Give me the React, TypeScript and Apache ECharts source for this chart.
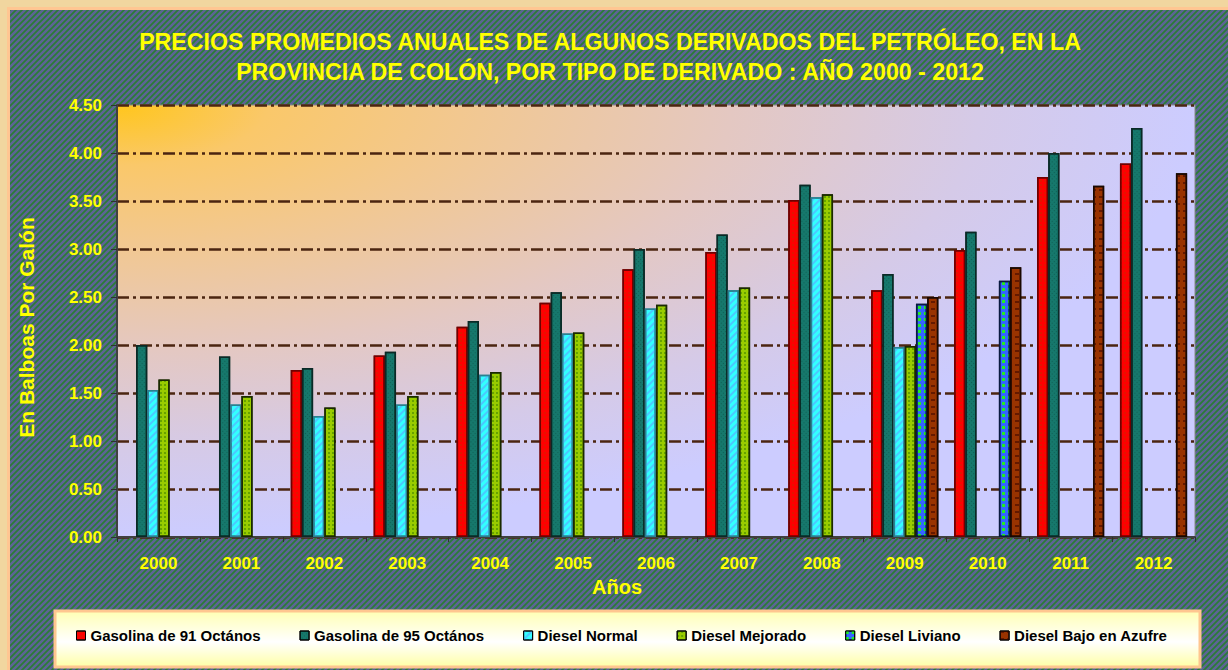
import React, { useEffect, useRef } from "react";
import * as echarts from "echarts";

const years = ["2000", "2001", "2002", "2003", "2004", "2005", "2006", "2007", "2008", "2009", "2010", "2011", "2012"];
const gasolina91 = [null, null, 1.74, 1.89, 2.19, 2.44, 2.79, 2.97, 3.51, 2.57, 2.99, 3.75, 3.89];
const gasolina95 = [2.0, 1.88, 1.76, 1.93, 2.25, 2.55, 3.0, 3.15, 3.67, 2.74, 3.18, 4.0, 4.26];
const dieselNormal = [1.53, 1.38, 1.26, 1.38, 1.69, 2.12, 2.38, 2.57, 3.54, 1.98, null, null, null];
const dieselMejorado = [1.64, 1.47, 1.35, 1.47, 1.72, 2.13, 2.42, 2.6, 3.57, 1.99, null, null, null];
const dieselLiviano = [null, null, null, null, null, null, null, null, null, 2.43, 2.67, null, null];
const dieselBajo = [null, null, null, null, null, null, null, null, null, 2.5, 2.81, 3.66, 3.79];

const seriesNames = [
  "Gasolina de 91 Octános",
  "Gasolina de 95 Octános",
  "Diesel Normal",
  "Diesel Mejorado",
  "Diesel Liviano",
  "Diesel Bajo en Azufre",
];

const titleText = "PRECIOS PROMEDIOS ANUALES DE ALGUNOS DERIVADOS DEL PETRÓLEO, EN LA\nPROVINCIA DE COLÓN, POR TIPO DE DERIVADO : AÑO 2000 - 2012";

const FONT = "'Liberation Sans', Arial, sans-serif";

const stripeTile =
  "url(\"data:image/svg+xml;utf8," +
  encodeURIComponent(
    "<svg xmlns='http://www.w3.org/2000/svg' width='6' height='6'><rect width='6' height='6' fill='#5d6396'/><path d='M-1,1 L1,-1 M0,6 L6,0 M5,7 L7,5' stroke='#2b7b37' stroke-width='1.8'/></svg>"
  ) +
  "\")";

export default function App() {
  const ref = useRef<HTMLDivElement>(null);

  useEffect(() => {
    if (!ref.current) return;
    const chart = echarts.init(ref.current, null, { renderer: "svg" });

    const styles = [
      {
        color: "#ff0000",
        borderColor: "#700000",
        decal: { symbol: "circle", symbolSize: 0.6, color: "rgba(140,80,0,0.7)", dashArrayX: [2, 2], dashArrayY: [2, 2] },
      },
      {
        color: "#16786c",
        borderColor: "#0a2a26",
        decal: { symbol: "rect", symbolSize: 1, color: "rgba(10,70,60,0.5)", dashArrayX: [1, 2], dashArrayY: [1, 2], rotation: Math.PI / 4 },
      },
      {
        color: "#33ffff",
        borderColor: "#2a8090",
        decal: { symbol: "rect", symbolSize: 1, color: "rgba(90,170,255,0.65)", dashArrayX: [1, 0], dashArrayY: [1.5, 2.5], rotation: -Math.PI / 4 },
      },
      {
        color: "#99cc00",
        borderColor: "#1a2a00",
        decal: { symbol: "rect", symbolSize: 0.8, color: "rgba(40,110,0,0.75)", dashArrayX: [1.5, 1.5], dashArrayY: [1.5, 1.5] },
      },
      {
        color: "#3366ff",
        borderColor: "#0a1a40",
        decal: { symbol: "rect", symbolSize: 1, color: "#22ee22", dashArrayX: [2.5, 3], dashArrayY: [2.5, 3] },
      },
      {
        color: "#993300",
        borderColor: "#1a0800",
        decal: { symbol: "rect", symbolSize: 1, color: "rgba(90,20,0,0.85)", dashArrayX: [4, 3], dashArrayY: [1.2, 5] },
      },
    ];
    const dataSets = [gasolina91, gasolina95, dieselNormal, dieselMejorado, dieselLiviano, dieselBajo];

    const plotBg = new echarts.graphic.RadialGradient(0, 0, 1, [
      { offset: 0, color: "#ffc61c" },
      { offset: 0.14, color: "#fac86a" },
      { offset: 0.32, color: "#f2c890" },
      { offset: 0.57, color: "#e4c8c2" },
      { offset: 0.8, color: "#d5cae8" },
      { offset: 1, color: "#ccccff" },
    ]);

    chart.setOption({
      animation: false,
      backgroundColor: "transparent",
      title: {
        text: titleText,
        left: 605,
        top: 22,
        textAlign: "center",
        textStyle: {
          color: "#ffff00",
          fontFamily: FONT,
          fontWeight: "bold",
          fontSize: 23.2,
          lineHeight: 30,
        },
      },
      graphic: [
        {
          type: "rect",
          shape: { x: 55, y: 611, width: 1145, height: 56 },
          style: {
            fill: new echarts.graphic.LinearGradient(0, 0, 0, 1, [
              { offset: 0, color: "#ffffb4" },
              { offset: 0.55, color: "#ffffff" },
              { offset: 1, color: "#ffffa6" },
            ]),
            stroke: "#ffc690",
            lineWidth: 3,
          },
          z: -10,
          silent: true,
        },
      ],
      legend: {
        data: seriesNames,
        left: 76,
        top: 628,
        padding: 0,
        itemGap: 39,
        itemWidth: 9,
        itemHeight: 9,
        icon: "rect",
        itemStyle: { borderColor: "#000", borderWidth: 1 },
        textStyle: { color: "#000", fontFamily: FONT, fontWeight: "bold", fontSize: 15 },
      },
      grid: {
        left: 117,
        right: 33,
        top: 105,
        bottom: 133,
        show: true,
        backgroundColor: plotBg,
        borderColor: "#8a8a8a",
        borderWidth: 1,
      },
      xAxis: {
        type: "category",
        data: years,
        name: "Años",
        nameLocation: "middle",
        nameGap: 40,
        nameTextStyle: { color: "#ffff00", fontFamily: FONT, fontWeight: "bold", fontSize: 20, padding: [0, 78, 0, 0] },
        axisLine: { lineStyle: { color: "#404040", width: 2 } },
        axisTick: { show: true, length: 5, lineStyle: { color: "#303030" } },
        axisLabel: { color: "#ffff00", fontFamily: FONT, fontWeight: "bold", fontSize: 17, margin: 18 },
        splitLine: { show: false },
      },
      yAxis: {
        type: "value",
        min: 0,
        max: 4.5,
        interval: 0.5,
        name: "En Balboas Por Galón",
        nameLocation: "middle",
        nameGap: 80,
        nameTextStyle: { color: "#ffff00", fontFamily: FONT, fontWeight: "bold", fontSize: 21, padding: [0, 13, 0, 0] },
        axisLine: { show: true, lineStyle: { color: "#404040", width: 2 } },
        axisTick: { show: true, length: 6, lineStyle: { color: "#303030" } },
        axisLabel: {
          color: "#ffff00",
          fontFamily: FONT,
          fontWeight: "bold",
          fontSize: 17,
          margin: 15,
          formatter: (v: number) => v.toFixed(2),
        },
        splitLine: { show: true, lineStyle: { color: "#4b2510", width: 2.5, type: [12, 4, 3, 4] } },
      },
      series: seriesNames.map((name, i) => ({
        name,
        type: "bar",
        data: dataSets[i],
        barGap: "0%",
        barCategoryGap: "19%",
        itemStyle: { ...styles[i], borderWidth: 1.5 },
      })),
    });

    return () => chart.dispose();
  }, []);

  return (
    <div style={{ position: "fixed", left: 0, top: 0, width: 1228, height: 670, background: "#f1d69f", overflow: "hidden" }}>
      <div
        style={{
          position: "absolute",
          left: 7,
          top: 7,
          width: 1240,
          height: 680,
          borderLeft: "3px solid #ffc692",
          borderTop: "3px solid #ffc692",
          backgroundImage: stripeTile,
          backgroundRepeat: "repeat",
        }}
      />
      <div ref={ref} style={{ position: "absolute", left: 0, top: 0, width: 1228, height: 670 }} />
    </div>
  );
}
